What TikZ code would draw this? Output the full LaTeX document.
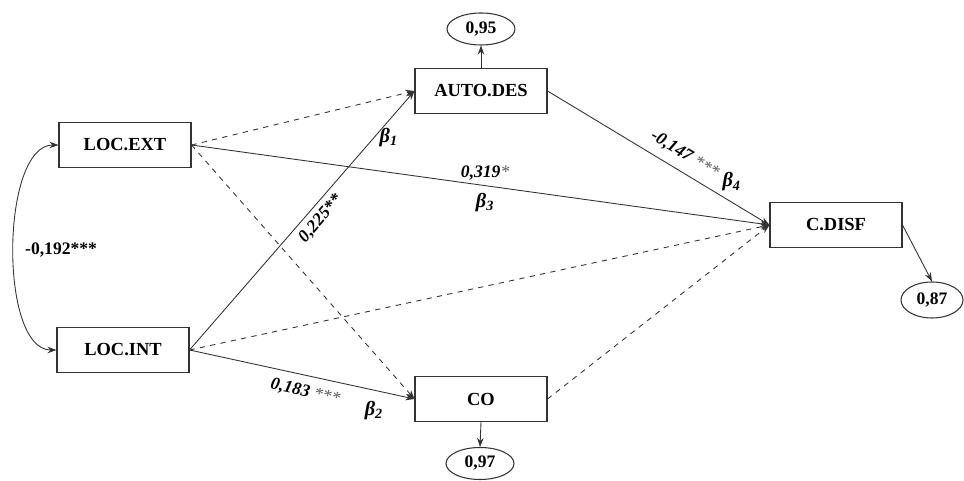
\documentclass[tikz,border=0pt]{standalone}
\usepackage{fontspec}
\setmainfont{Liberation Serif}
\usetikzlibrary{arrows.meta,positioning,shapes.geometric}
\definecolor{linegray}{HTML}{333333}
\definecolor{stargray}{HTML}{5A5A5A}

\begin{document}
\begin{tikzpicture}[
  box/.style={draw=linegray,line width=0.6pt,minimum width=2.64cm,minimum height=0.9cm,font=\fontsize{10.5}{12}\bfseries},
  resid/.style={draw=linegray,ellipse,line width=0.6pt,minimum width=1.36cm,minimum height=0.64cm,inner sep=0pt,font=\bfseries},
  link/.style={draw=linegray,line width=0.5pt,-{Stealth[length=1.8mm,width=1.3mm]}},
  weak/.style={link,dashed},
  coef/.style={font=\bfseries\itshape,inner sep=1pt},
  beta/.style={font=\fontsize{11.5}{13}\bfseries\itshape,inner sep=1pt}
]
  \useasboundingbox (0,0) rectangle (19.28,9.62);
  % variables
  \node[box] (ext) at (2.5,6.72) {LOC.EXT};
  \node[box] (int) at (2.46,2.62) {LOC.INT};
  \node[box] (aut) at (9.62,7.8) {AUTO.DES};
  \node[box] (co) at (9.62,1.64) {CO};
  \node[box] (dis) at (16.72,5.12) {C.DISF};
  % residuals
  \node[resid] (r95) at (9.62,9.04) {0,95};
  \node[resid] (r97) at (9.6,0.35) {0,97};
  \node[resid,minimum width=1.24cm,minimum height=0.72cm] (r87) at (18.64,3.62) {0,87};
  % correlation
  \draw[draw=linegray,line width=0.5pt,{Stealth[length=1.8mm,width=1.3mm]}-{Stealth[length=1.8mm,width=1.3mm]}]
    (ext.west) to[out=180,in=180,looseness=0.72] (int.west);
  \node[font=\bfseries,anchor=west] (corr) at (0.38,4.62) {-0,192***};
  % paths
  \draw[weak] (ext.east) -- (aut.west);
  \draw[weak] (ext.east) -- (co.west);
  \draw[link] (ext.east) -- (dis.west)
    node[coef,pos=0.508,above=2pt] {0,319\textcolor{stargray}{\mdseries*}}
    node[beta,pos=0.508,below=3pt] {β\textsubscript{3}};
  \draw[link] (int.east) -- (aut.west)
    node[coef,pos=0.54,sloped,below=2pt] {0,225**}
    node[beta,pos=0.82,right=2pt] {β\textsubscript{1}};
  \draw[weak] (int.east) -- (dis.west);
  \draw[link] (int.east) -- (co.west)
    node[coef,pos=0.53,sloped,below=4pt] {0,183 \textcolor{stargray}{\mdseries***}}
    node[beta,pos=0.82,below=5pt] {β\textsubscript{2}};
  \draw[link] (aut.east) -- (dis.west)
    node[coef,pos=0.58,sloped,above=4pt] {-0,147 \textcolor{stargray}{\mdseries***}}
    node[beta,pos=0.83,above=5pt] {β\textsubscript{4}};
  \draw[weak] (co.east) -- (dis.west);
  % error terms
  \draw[link] (aut.north) -- (r95.south);
  \draw[link] (co.south) -- (r97.north);
  \draw[link] (dis.east) -- (r87.north);
\end{tikzpicture}
\end{document}
